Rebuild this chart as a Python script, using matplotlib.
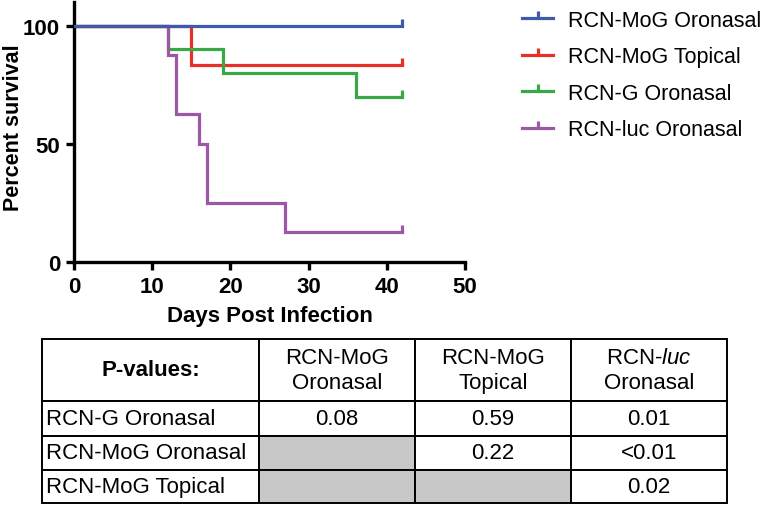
import matplotlib
matplotlib.use('Agg')
import matplotlib.pyplot as plt

plt.rcParams['font.family'] = ['Liberation Sans', 'DejaVu Sans']
plt.rcParams['mathtext.fontset'] = 'custom'
plt.rcParams['mathtext.rm'] = 'Liberation Sans'
plt.rcParams['mathtext.it'] = 'Liberation Sans:italic'

# survival curves (Kaplan-Meier steps)
labels = ['RCN-MoG Oronasal', 'RCN-MoG Topical', 'RCN-G Oronasal', 'RCN-luc Oronasal']
colors = ['#3f5aa8', '#e8302a', '#39a947', '#9a58a5']
days = [
    [0, 42],
    [0, 15, 42],
    [0, 12, 19, 36, 42],
    [0, 12, 13, 16, 17, 27, 42],
]
survival = [
    [100, 100],
    [100, 83.3, 83.3],
    [100, 90, 80, 70, 70],
    [100, 87.5, 62.5, 50, 25, 12.5, 12.5],
]

# p-value table
col_labels = ['P-values:', 'RCN-MoG\nOronasal', 'RCN-MoG\nTopical', 'RCN-$\\mathit{luc}$\nOronasal']
row_labels = ['RCN-G Oronasal', 'RCN-MoG Oronasal', 'RCN-MoG Topical']
pvals = [
    ['0.08', '0.59', '0.01'],
    ['', '0.22', '<0.01'],
    ['', '', '0.02'],
]
gray = [(1, 0), (2, 0), (2, 1)]

fig = plt.figure(figsize=(7.68, 5.10), dpi=100)
ax = fig.add_axes([74/768, 1 - 263/510, 391/768, 260/510])

censor = [(0, 0), (0, 1)]  # small upward tick at the censored end
order = [1, 2, 3, 0]
for i in order:
    ax.plot(days[i], survival[i], drawstyle='steps-post', color=colors[i], lw=2.3,
            marker=censor, markevery=[len(days[i]) - 1], ms=10, mew=2.3,
            label=labels[i], zorder=3 if i == 0 else 2, solid_joinstyle='miter')

ax.set_xlim(0, 50)
ax.set_ylim(0, 110)
ax.set_xticks([0, 10, 20, 30, 40, 50])
ax.set_yticks([0, 50, 100])
for s in ['top', 'right']:
    ax.spines[s].set_visible(False)
for s in ['left', 'bottom']:
    ax.spines[s].set_linewidth(2.4)
ax.tick_params(width=2.4, length=6, labelsize=16, pad=4)
for t in ax.get_xticklabels() + ax.get_yticklabels():
    t.set_fontweight('bold')
ax.set_xlabel('Days Post Infection', fontsize=16, fontweight='bold', labelpad=6)
ax.set_ylabel('Percent survival', fontsize=15.5, fontweight='bold')
ax.yaxis.set_label_coords(-0.127, 0.52)

handles, labs = ax.get_legend_handles_labels()
hmap = dict(zip(labs, handles))
fig.legend([hmap[l] for l in labels], labels, loc='upper left',
           bbox_to_anchor=(522/768, 1 - 11/510), frameon=False, fontsize=15.5,
           handlelength=1.45, handletextpad=0.7, labelspacing=0.72,
           borderaxespad=0, borderpad=0, numpoints=1)

# table
tax = fig.add_axes([42/768, 6/510, 685/768, 164/510])
tax.axis('off')
cells = [[row_labels[r]] + pvals[r] for r in range(len(row_labels))]
tb = tax.table(cellText=cells, colLabels=col_labels, bbox=[0, 0, 1, 1],
               colWidths=[217, 156, 156, 156], cellLoc='center')
tb.auto_set_font_size(False)
heights = [62, 35, 34, 33]
for (r, c), cell in tb.get_celld().items():
    cell.set_height(heights[r])
    cell.set_linewidth(1.4)
    cell.get_text().set_fontsize(16)
    if r == 0 and c == 0:
        cell.get_text().set_fontweight('bold')
    if r > 0 and c == 0:
        cell.get_text().set_ha('left')
        cell.PAD = 0.02
    if r > 0 and (r - 1, c - 1) in gray:
        cell.set_facecolor('#c8c8c8')

fig.savefig('out.png', dpi=100)
